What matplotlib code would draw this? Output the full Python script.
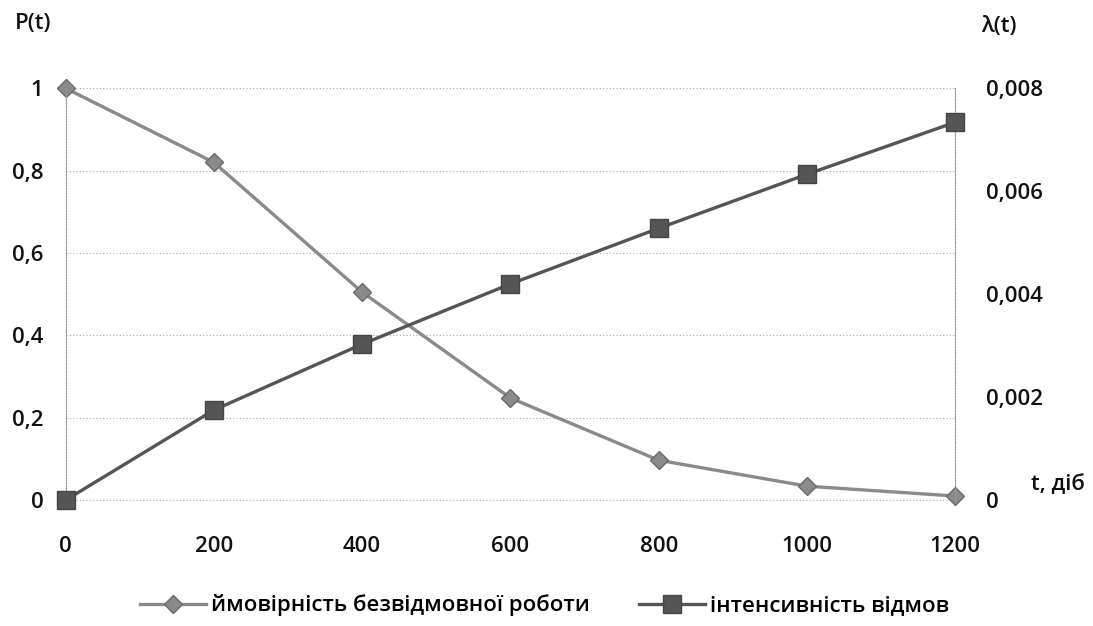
import matplotlib
matplotlib.use("Agg")
import matplotlib.pyplot as plt
from matplotlib.ticker import FixedLocator, FuncFormatter

t_days = [0, 200, 400, 600, 800, 1000, 1200]
p_values = [1.0, 0.82, 0.505, 0.248, 0.097, 0.034, 0.01]
lam_values = [0.0, 0.00175, 0.00303, 0.0042, 0.00528, 0.00633, 0.00734]

p_ticks = [0, 0.2, 0.4, 0.6, 0.8, 1]
lam_ticks = [0, 0.002, 0.004, 0.006, 0.008]
x_ticks = [0, 200, 400, 600, 800, 1000, 1200]

label_p = "ймовірність безвідмовної роботи"
label_lam = "інтенсивність відмов"

plt.rcParams['font.family'] = ['Open Sans', 'DejaVu Sans']
plt.rcParams['font.weight'] = 'semibold'

fig = plt.figure(figsize=(10.93, 6.26), dpi=100)
ax = fig.add_axes([0.060, 0.201, 0.814, 0.658])
ax2 = ax.twinx()

def comma(v, pos):
    s = f"{v:g}"
    return s.replace('.', ',')

ax.set_xlim(0, 1200)
ax.set_ylim(0, 1)
ax2.set_ylim(0, 0.008)
ax.xaxis.set_major_locator(FixedLocator(x_ticks))
ax.yaxis.set_major_locator(FixedLocator(p_ticks))
ax2.yaxis.set_major_locator(FixedLocator(lam_ticks))
ax.yaxis.set_major_formatter(FuncFormatter(comma))
ax2.yaxis.set_major_formatter(FuncFormatter(lambda v, p: f"{v:.3f}".replace('.', ',') if v else "0"))

for a in (ax, ax2):
    for s in ('top', 'bottom'):
        a.spines[s].set_visible(False)
    for s in ('left', 'right'):
        a.spines[s].set_linestyle((0, (1, 1.5)))
        a.spines[s].set_color('#9a9a9a')
        a.spines[s].set_linewidth(0.8)
    a.tick_params(length=0, labelsize=16, colors='#111111')
ax.tick_params(axis='y', pad=16)
ax2.tick_params(axis='y', pad=22)
ax.tick_params(axis='x', pad=26)

for y in p_ticks:
    ax.axhline(y, color='#a8a8a8', lw=0.8, ls=(0, (1, 2)), zorder=0, clip_on=False)

lp, = ax.plot(t_days, p_values, color='#8a8a8a', lw=2.4, marker='D', ms=9,
              mfc='#8a8a8a', mec='#6a6a6a', clip_on=False, zorder=3)
ll, = ax2.plot(t_days, lam_values, color='#555555', lw=2.4, marker='s', ms=13,
               mfc='#555555', mec='#444444', clip_on=False, zorder=3)

fig.text(0.014, 0.962, "P(t)", fontsize=16, ha='left', va='center', color='#111111')
fig.text(0.898, 0.958, "λ(t)", fontsize=16, ha='left', va='center', color='#111111')
fig.text(0.943, 0.226, "t, діб", fontsize=16, ha='left', va='center', color='#111111')

fig.legend([lp, ll], [label_p, label_lam], loc='center', bbox_to_anchor=(0.498, 0.033),
           ncol=2, frameon=False, fontsize=16, handlelength=3.0, columnspacing=2.2,
           handletextpad=0.2)

fig.savefig("out.png", dpi=100)
